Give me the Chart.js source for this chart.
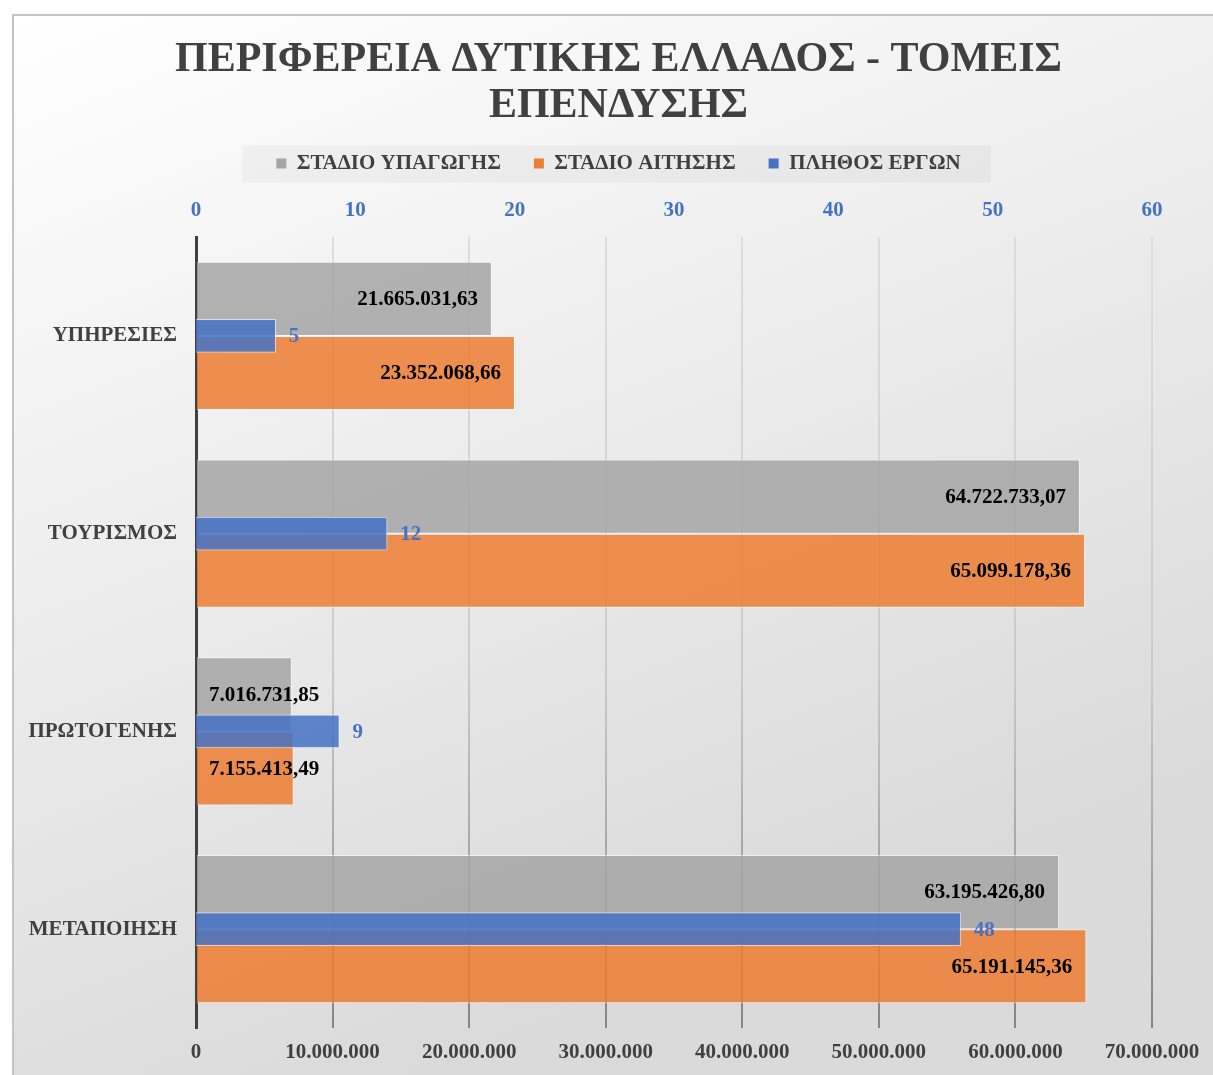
<!DOCTYPE html>
<html>
<head>
<meta charset="utf-8">
<title>ΠΕΡΙΦΕΡΕΙΑ ΔΥΤΙΚΗΣ ΕΛΛΑΔΟΣ - ΤΟΜΕΙΣ ΕΠΕΝΔΥΣΗΣ</title>
<script src="https://cdn.jsdelivr.net/npm/chart.js@4.4.1/dist/chart.umd.min.js"></script>
<style>
  html, body { margin: 0; padding: 0; background: #fff; overflow: hidden; }
  #wrap { position: relative; width: 1213px; height: 1075px; }
</style>
</head>
<body>
<div id="wrap"><canvas id="chart"></canvas></div>
<script>
// --- Data ---
const categories = ['ΥΠΗΡΕΣΙΕΣ', 'ΤΟΥΡΙΣΜΟΣ', 'ΠΡΩΤΟΓΕΝΗΣ', 'ΜΕΤΑΠΟΙΗΣΗ']
const stageSubmission = [21665031.63, 64722733.07, 7016731.85, 63195426.80]   // ΣΤΑΔΙΟ ΥΠΑΓΩΓΗΣ
const stageApplication = [23352068.66, 65099178.36, 7155413.49, 65191145.36]  // ΣΤΑΔΙΟ ΑΙΤΗΣΗΣ
const projectCount = [5, 12, 9, 48]                                           // ΠΛΗΘΟΣ ΕΡΓΩΝ
const amountTicks = [0, 10000000, 20000000, 30000000, 40000000, 50000000, 60000000, 70000000]
const countTicks = [0, 10, 20, 30, 40, 50, 60]

const GRAY = '#A5A5A5'
const ORANGE = '#ED7D31'
const BLUE = '#4472C4'
const TEXT = '#404040'
const SERIF = '"Liberation Serif", "Times New Roman", serif'

Chart.defaults.font.family = SERIF
Chart.defaults.font.weight = 'bold'

// Greek number format: 21.665.031,63
function fmtNum(v, decimals) {
  const fixed = v.toFixed(decimals)
  const [int, frac] = fixed.split('.')
  const grouped = int.replace(/\B(?=(\d{3})+(?!\d))/g, '.')
  return frac ? grouped + ',' + frac : grouped
}

function alpha(hex, a) {
  const n = parseInt(hex.slice(1), 16)
  return `rgba(${(n >> 16) & 255},${(n >> 8) & 255},${n & 255},${a})`
}

// --- Plugins ---

// Background gradient, chart border and legend backdrop
const backdrop = {
  id: 'backdrop',
  beforeDraw(chart) {
    const { ctx, width, height } = chart
    ctx.save()
    ctx.fillStyle = '#ffffff'
    ctx.fillRect(0, 0, width, height)
    const g = ctx.createLinearGradient(12, 14, 420, height)
    g.addColorStop(0, '#ffffff')
    g.addColorStop(1, '#dadada')
    ctx.fillStyle = g
    ctx.fillRect(12, 14, width - 12, height - 14)
    ctx.strokeStyle = '#c4c4c4'
    ctx.lineWidth = 2
    ctx.beginPath()
    ctx.moveTo(13, height)
    ctx.lineTo(13, 15)
    ctx.lineTo(width, 15)
    ctx.stroke()

    // legend box
    const boxes = chart.legend && chart.legend.legendHitBoxes
    if (boxes && boxes.length) {
      const minX = Math.min(...boxes.map(b => b.left))
      const maxX = Math.max(...boxes.map(b => b.left + b.width))
      const cy = boxes[0].top + boxes[0].height / 2
      ctx.fillStyle = 'rgba(0,0,0,0.035)'
      ctx.fillRect(minX - 34, cy - 18, maxX - minX + 64, 37)
    }
    ctx.restore()
  }
}

// Value labels on the bars
const barLabels = {
  id: 'barLabels',
  afterDatasetsDraw(chart) {
    const ctx = chart.ctx
    ctx.save()
    ctx.font = 'bold 21px ' + SERIF
    ctx.textBaseline = 'middle'
    chart.data.datasets.forEach((ds, di) => {
      const meta = chart.getDatasetMeta(di)
      meta.data.forEach((bar, i) => {
        const v = ds.data[i]
        if (ds.xAxisID === 'x2') {
          ctx.fillStyle = BLUE
          ctx.textAlign = 'left'
          ctx.fillText(String(v), bar.x + 13, bar.y + 1)
          return
        }
        const text = fmtNum(v, 2)
        const w = ctx.measureText(text).width
        let right = bar.x - 14
        if (right - w < bar.base + 12) right = bar.base + 12 + w
        ctx.fillStyle = '#000000'
        ctx.textAlign = 'right'
        ctx.fillText(text, right, bar.y + 1)
      })
    })
    ctx.restore()
  }
}

function gridColor(c) {
  const area = c.chart.chartArea
  if (!area) return '#cccccc'
  const g = c.chart.ctx.createLinearGradient(0, area.top, 0, area.bottom)
  g.addColorStop(0, '#dddddd')
  g.addColorStop(0.55, '#cbcbcb')
  g.addColorStop(1, '#858585')
  return g
}

function zeroPad(s) {
  s.paddingLeft = 0
  s.paddingRight = 0
  s.paddingTop = 0
  s.paddingBottom = 0
}

const ctx = document.getElementById('chart')

new Chart(ctx, {
  type: 'bar',
  data: {
    labels: categories,
    datasets: [
      {
        label: 'ΣΤΑΔΙΟ ΥΠΑΓΩΓΗΣ',
        data: stageSubmission,
        backgroundColor: alpha(GRAY, 0.85),
        borderColor: 'rgba(255,255,255,0.55)',
        borderWidth: 1,
        categoryPercentage: 0.75,
        barPercentage: 1,
        xAxisID: 'x',
        order: 1
      },
      {
        label: 'ΣΤΑΔΙΟ ΑΙΤΗΣΗΣ',
        data: stageApplication,
        backgroundColor: alpha(ORANGE, 0.85),
        borderColor: 'rgba(255,255,255,0.55)',
        borderWidth: 1,
        categoryPercentage: 0.75,
        barPercentage: 1,
        xAxisID: 'x',
        order: 1
      },
      {
        label: 'ΠΛΗΘΟΣ ΕΡΓΩΝ',
        data: projectCount,
        backgroundColor: alpha(BLUE, 0.85),
        borderColor: 'rgba(255,255,255,0.55)',
        borderWidth: 1,
        grouped: false,
        barThickness: 33,
        xAxisID: 'x2',
        order: 0
      }
    ]
  },
  options: {
    indexAxis: 'y',
    responsive: true,
    maintainAspectRatio: false,
    animation: false,
    layout: { padding: { left: 24, right: 0, top: 0, bottom: 0 } },
    plugins: {
      title: {
        display: true,
        text: ['ΠΕΡΙΦΕΡΕΙΑ ΔΥΤΙΚΗΣ ΕΛΛΑΔΟΣ - ΤΟΜΕΙΣ', 'ΕΠΕΝΔΥΣΗΣ'],
        color: TEXT,
        font: { family: SERIF, size: 42, weight: 'bold', lineHeight: 46 / 42 },
        padding: { top: 37, bottom: -9 }
      },
      legend: {
        display: true,
        position: 'top',
        labels: {
          color: TEXT,
          font: { family: SERIF, size: 21, weight: 'bold' },
          boxWidth: 10,
          boxHeight: 10,
          padding: 33,
          sort: (a, b) => a.datasetIndex - b.datasetIndex,
          generateLabels(chart) {
            const items = Chart.defaults.plugins.legend.labels.generateLabels(chart)
            const solid = [GRAY, ORANGE, BLUE]
            items.forEach(it => {
              it.fillStyle = solid[it.datasetIndex]
              it.strokeStyle = solid[it.datasetIndex]
              it.lineWidth = 0
            })
            return items
          }
        }
      },
      tooltip: { enabled: false }
    },
    scales: {
      y: {
        type: 'category',
        position: 'left',
        offset: true,
        grid: { display: false, drawTicks: false },
        border: { display: true, color: '#404040', width: 3 },
        ticks: {
          color: TEXT,
          font: { family: SERIF, size: 21, weight: 'bold' },
          padding: 19
        },
        afterFit(s) {
          s.width = 172
          zeroPad(s)
        }
      },
      // empty right-hand spacer so title and legend stay centred on the whole frame
      yRight: {
        type: 'category',
        position: 'right',
        display: true,
        grid: { display: false, drawTicks: false },
        border: { display: false },
        ticks: { display: false },
        afterFit(s) {
          s.width = 61
          zeroPad(s)
        }
      },
      x: {
        type: 'linear',
        position: 'bottom',
        min: amountTicks[0],
        max: amountTicks[amountTicks.length - 1],
        afterBuildTicks(s) {
          s.ticks = amountTicks.map(v => ({ value: v }))
        },
        grid: { display: true, drawTicks: false, color: gridColor, lineWidth: 2 },
        border: { display: false },
        ticks: {
          color: TEXT,
          font: { family: SERIF, size: 21, weight: 'bold' },
          padding: 12,
          maxRotation: 0,
          autoSkip: false,
          callback: v => fmtNum(v, 0)
        },
        afterFit(s) {
          s.height = 47
          zeroPad(s)
        }
      },
      x2: {
        type: 'linear',
        position: 'top',
        min: countTicks[0],
        max: countTicks[countTicks.length - 1],
        afterBuildTicks(s) {
          s.ticks = countTicks.map(v => ({ value: v }))
        },
        grid: { display: false, drawTicks: false },
        border: { display: false },
        ticks: {
          color: BLUE,
          font: { family: SERIF, size: 21, weight: 'bold' },
          padding: 14,
          maxRotation: 0,
          autoSkip: false
        },
        afterFit(s) {
          const ch = s.chart
          const used = (ch.titleBlock ? ch.titleBlock.height : 0) + (ch.legend ? ch.legend.height : 0)
          s.height = Math.max(237 - used, 0)
          zeroPad(s)
        }
      }
    }
  },
  plugins: [backdrop, barLabels]
})
</script>
</body>
</html>
